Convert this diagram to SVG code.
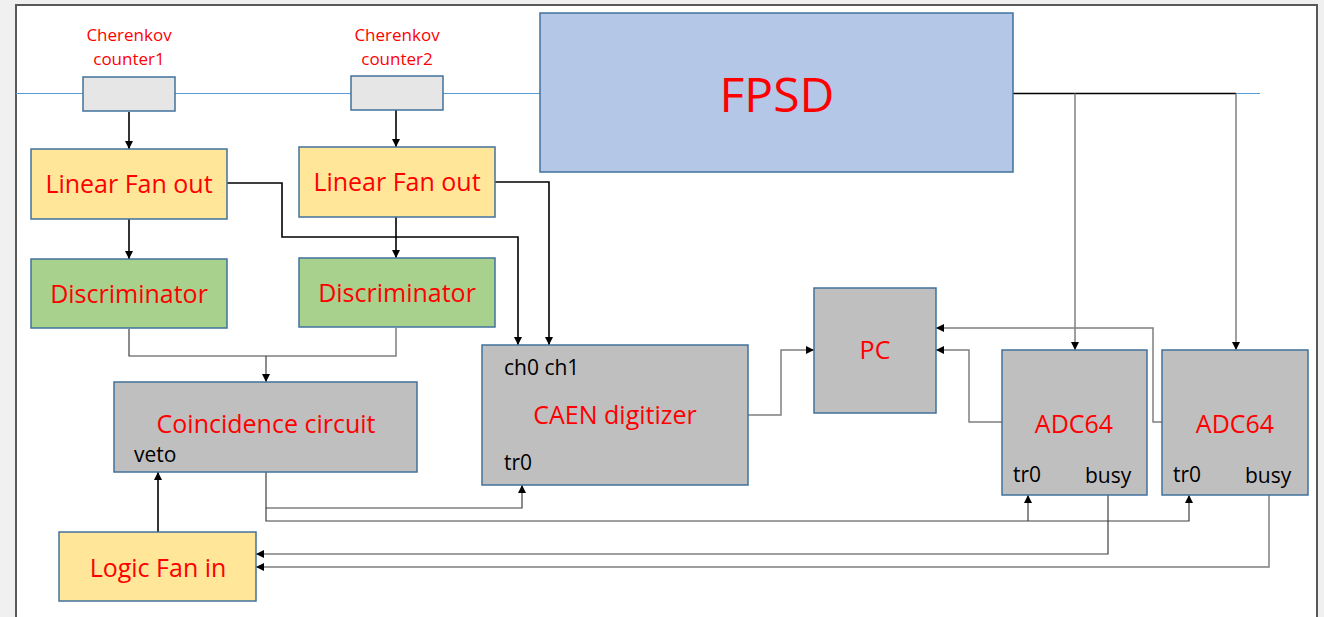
<svg xmlns="http://www.w3.org/2000/svg" width="1324" height="617" viewBox="0 0 1324 617">
<defs>
<marker id="arr" markerUnits="userSpaceOnUse" markerWidth="9" markerHeight="8" refX="8" refY="4" orient="auto">
<path d="M0,0 L8,4 L0,8 Z" fill="#000"/>
</marker>
</defs>
<style>
.box{stroke:#41719c;stroke-width:1.5}
.gray{fill:#bfbfbf}
.yel{fill:#ffe699}
.grn{fill:#a9d18e}
.blu{fill:#b4c7e7}
.cnt{fill:#e6e6e6}
.red{fill:#ff0000;font-family:"Open Sans","Noto Sans",sans-serif;text-anchor:middle}
.lbl{font-size:25px}
.blk{fill:#000;font-family:"Open Sans","Noto Sans",sans-serif;font-size:21px}
.cw{fill:none;stroke:#000;stroke-width:1.6}
.cg{fill:none;stroke:#7f7f7f;stroke-width:1.5}
.cd{fill:none;stroke:#404040;stroke-width:1.2}
</style>
<rect x="0" y="0" width="1324" height="617" fill="#f0f0f0"/>
<rect x="16" y="5" width="1301" height="630" fill="#fff" stroke="#595959" stroke-width="2"/>
<g id="beam">
<line x1="16" y1="93.5" x2="540" y2="93.5" stroke="#5b9bd5" stroke-width="1"/>
<line x1="1236" y1="93.5" x2="1260" y2="93.5" stroke="#5b9bd5" stroke-width="1"/>
</g>
<g id="connectors">
<path class="cw" d="M129,112 V149" stroke-width="2" marker-end="url(#arr)"/>
<path class="cw" d="M396,110 V147" marker-end="url(#arr)"/>
<path class="cw" d="M129,219 V259" marker-end="url(#arr)"/>
<path class="cw" d="M396,217 V258" marker-end="url(#arr)"/>
<path class="cw" d="M227,183 H282 V237 H518 V345" marker-end="url(#arr)"/>
<path class="cw" d="M495,182 H549 V345" marker-end="url(#arr)"/>
<path class="cd" d="M129,329 V356 H266"/>
<path class="cg" d="M396,328 V356 H266"/>
<path class="cd" d="M266,356 V382" marker-end="url(#arr)"/>
<path class="cd" d="M266,472 V508 H522 V485" marker-end="url(#arr)"/>
<path class="cd" d="M266,508 V521 H1189 V495" marker-end="url(#arr)"/>
<path class="cd" d="M1028,521 V495" marker-end="url(#arr)"/>
<path class="cw" d="M158,532 V472" stroke-width="1.2" marker-end="url(#arr)"/>
<path class="cg" d="M748,415 H781 V350 H814" marker-end="url(#arr)"/>
<path class="cg" d="M1002,422 H969 V350 H936" marker-end="url(#arr)"/>
<path class="cg" d="M1162,422 H1153 V328 H936" marker-end="url(#arr)"/>
<path class="cw" d="M1013,93.5 H1236" stroke-width="1"/>
<path class="cg" d="M1075,93.5 V350" marker-end="url(#arr)"/>
<path class="cg" d="M1236,93.5 V350" marker-end="url(#arr)"/>
<path class="cd" d="M1108,495 V554 H256" marker-end="url(#arr)"/>
<path class="cg" d="M1269,495 V567 H256" marker-end="url(#arr)"/>
</g>
<g id="counter1">
<rect class="box cnt" x="83" y="77" width="92" height="34"/>
<text class="red" x="129" y="41" font-size="17">Cherenkov</text>
<text class="red" x="129" y="65" font-size="17">counter1</text>
</g>
<g id="counter2">
<rect class="box cnt" x="351" y="76" width="92" height="34"/>
<text class="red" x="397" y="41" font-size="17">Cherenkov</text>
<text class="red" x="397" y="65" font-size="17">counter2</text>
</g>
<g id="fpsd">
<rect class="box blu" x="540" y="13" width="473" height="159"/>
<text class="red" x="777" y="112" font-size="48">FPSD</text>
</g>
<g id="lfo1">
<rect class="box yel" x="31" y="149" width="196" height="70"/>
<text class="red lbl" x="129" y="193">Linear Fan out</text>
</g>
<g id="lfo2">
<rect class="box yel" x="299" y="147" width="196" height="70"/>
<text class="red lbl" x="397" y="191">Linear Fan out</text>
</g>
<g id="disc1">
<rect class="box grn" x="31" y="259" width="196" height="69"/>
<text class="red lbl" x="129" y="303">Discriminator</text>
</g>
<g id="disc2">
<rect class="box grn" x="299" y="258" width="196" height="69"/>
<text class="red lbl" x="397" y="302">Discriminator</text>
</g>
<g id="coinc">
<rect class="box gray" x="114" y="382" width="303" height="90"/>
<text class="red lbl" x="266" y="433">Coincidence circuit</text>
<text class="blk" x="134" y="462" font-size="20">veto</text>
</g>
<g id="lfi">
<rect class="box yel" x="59" y="532" width="197" height="69"/>
<text class="red lbl" x="158" y="577">Logic Fan in</text>
</g>
<g id="caen">
<rect class="box gray" x="482" y="345" width="266" height="140"/>
<text class="blk" x="504" y="375">ch0 ch1</text>
<text class="red lbl" x="615" y="424">CAEN digitizer</text>
<text class="blk" x="504" y="470">tr0</text>
</g>
<g id="pc">
<rect class="box gray" x="814" y="288" width="122" height="125"/>
<text class="red lbl" x="875" y="359">PC</text>
</g>
<g id="adc1">
<rect class="box gray" x="1002" y="350" width="145" height="145"/>
<text class="red lbl" x="1074" y="433">ADC64</text>
<text class="blk" x="1013" y="482">tr0</text>
<text class="blk" x="1085" y="483">busy</text>
</g>
<g id="adc2">
<rect class="box gray" x="1162" y="350" width="146" height="145"/>
<text class="red lbl" x="1235" y="433">ADC64</text>
<text class="blk" x="1173" y="482">tr0</text>
<text class="blk" x="1245" y="483">busy</text>
</g>
</svg>
